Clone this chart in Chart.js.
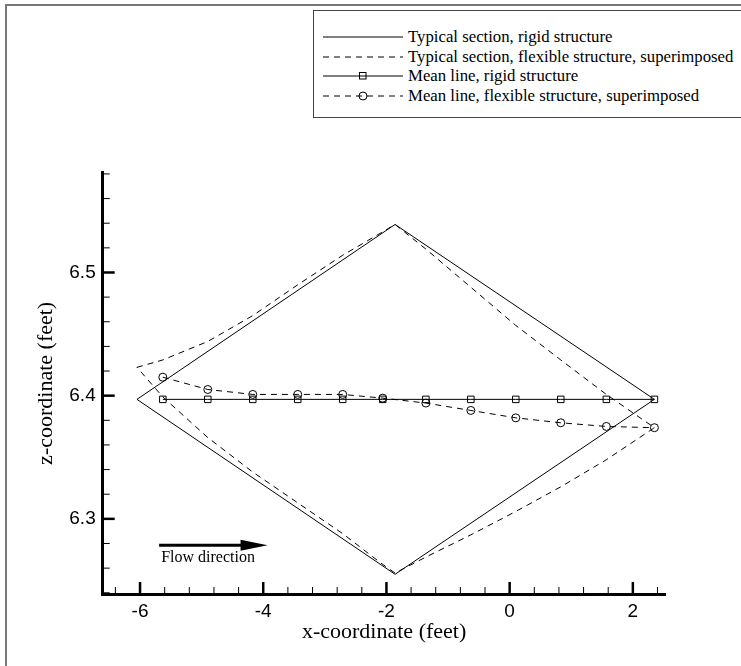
<!DOCTYPE html>
<html lang="en">
<head>
<meta charset="UTF-8">
<title>Typical section and mean line</title>
<script src="https://cdn.jsdelivr.net/npm/chart.js"></script>
<style>
    body { margin: 0; background: #fff; }
    #wrap { position: relative; width: 741px; height: 666px; overflow: hidden; }
    #frame { position: absolute; left: 5px; top: 4px; width: 760px; height: 700px; border-top: 2px solid #777; border-left: 2px solid #777; pointer-events: none; }
    #legend { position: absolute; left: 313px; top: 10px; width: 440px; height: 106px; border: 1px solid #444; background: #fff;
              font: 16.75px "Liberation Serif", "Times New Roman", serif; color: #000; }
    .row { position: absolute; left: 9px; height: 19px; display: flex; align-items: center; white-space: nowrap; }
    .row svg { width: 80px; height: 14px; margin-right: 5px; }
</style>
</head>
<body>
<div id="wrap">
    <canvas id="chart" width="741" height="666"></canvas>
    <div id="frame"></div>
    <div id="legend"></div>
</div>
<script>
// typical section, rigid structure: leading edge, crest, trailing edge, bottom, back to leading edge
const rigidX = [-6.05, -1.86, 2.35, -1.86, -6.05];
const rigidZ = [6.397, 6.539, 6.397, 6.255, 6.397];

// typical section, flexible structure (upper and lower surface at the same stations)
const flexX      = [-6.05, -5.63, -4.90, -4.17, -3.44, -2.71, -2.06, -1.86, -1.36, -0.63, 0.10, 0.83, 1.57, 2.35];
const flexUpperZ = [6.423, 6.429, 6.444, 6.465, 6.490, 6.514, 6.533, 6.539, 6.519, 6.488, 6.457, 6.429, 6.401, 6.374];
const flexLowerZ = [6.423, 6.399, 6.366, 6.338, 6.313, 6.288, 6.263, 6.256, 6.269, 6.287, 6.306, 6.326, 6.348, 6.374];

// mean line stations
const stationX   = [-5.63, -4.90, -4.17, -3.44, -2.71, -2.06, -1.36, -0.63, 0.10, 0.83, 1.57, 2.35];
const meanRigidZ = [6.397, 6.397, 6.397, 6.397, 6.397, 6.397, 6.397, 6.397, 6.397, 6.397, 6.397, 6.397];
const meanFlexZ  = [6.415, 6.405, 6.401, 6.401, 6.401, 6.398, 6.394, 6.388, 6.382, 6.378, 6.375, 6.374];

const seriesNames = [
    'Typical section, rigid structure',
    'Typical section, flexible structure, superimposed',
    'Mean line, rigid structure',
    'Mean line, flexible structure, superimposed'
];

const xMajor = [-6, -4, -2, 0, 2];
const yMajor = [6.3, 6.4, 6.5];
const xRange = [-6.606, 2.53];
const yRange = [6.239, 6.581];

// flow direction arrow (data units)
const flowFrom = [-5.69, 6.2786];
const flowTo = [-3.93, 6.2786];

const pts = (xs, zs) => xs.map((x, i) => ({ x: x, y: zs[i] }));
const flexOutline = pts(flexX, flexUpperZ).concat(pts(flexX, flexLowerZ).reverse());

const serif = '"Liberation Serif", "Times New Roman", serif';
const sans = '"Liberation Sans", Arial, sans-serif';

const inwardTicks = {
    id: 'inwardTicks',
    afterDraw(chart) {
        const { ctx, chartArea: a, scales: { x, y } } = chart;
        ctx.save();
        ctx.strokeStyle = '#000';
        const seg = (x1, y1, x2, y2, w) => {
            ctx.lineWidth = w;
            ctx.beginPath(); ctx.moveTo(x1, y1); ctx.lineTo(x2, y2); ctx.stroke();
        };
        for (let i = -17; i <= 6; i++) {
            const v = i * 0.4;
            if (v < xRange[0] || v > xRange[1]) continue;
            const px = x.getPixelForValue(v);
            const major = i % 5 === 0;
            seg(px, a.bottom, px, a.bottom - (major ? 12 : 7), major ? 2.5 : 1);
        }
        for (let i = 312; i <= 329; i++) {
            const v = i * 0.02;
            if (v < yRange[0] || v > yRange[1]) continue;
            const py = y.getPixelForValue(v);
            const major = i % 5 === 0;
            seg(a.left, py, a.left + (major ? 12 : 7), py, major ? 2.5 : 1);
        }
        // flow direction arrow
        const x0 = x.getPixelForValue(flowFrom[0]), x1 = x.getPixelForValue(flowTo[0]);
        const yy = y.getPixelForValue(flowFrom[1]);
        seg(x0, yy, x1 - 20, yy, 3);
        ctx.fillStyle = '#000';
        ctx.beginPath();
        ctx.moveTo(x1, yy); ctx.lineTo(x1 - 27, yy - 5.5); ctx.lineTo(x1 - 27, yy + 5.5);
        ctx.closePath(); ctx.fill();
        ctx.font = '16px ' + serif;
        ctx.textBaseline = 'middle';
        ctx.textAlign = 'left';
        ctx.fillText('Flow direction', x0 + 2, yy + 13);
        ctx.restore();
    }
};

const chart = new Chart(document.getElementById('chart'), {
    type: 'scatter',
    data: {
        datasets: [{
            label: seriesNames[0],
            data: pts(rigidX, rigidZ),
            showLine: true, borderColor: '#000', borderWidth: 1, pointRadius: 0
        }, {
            label: seriesNames[1],
            data: flexOutline,
            showLine: true, borderColor: '#000', borderWidth: 1, borderDash: [6, 5], pointRadius: 0
        }, {
            label: seriesNames[2],
            data: pts(stationX, meanRigidZ),
            showLine: true, borderColor: '#000', borderWidth: 1,
            pointStyle: 'rect', pointRadius: 4.6, pointBorderWidth: 1,
            pointBorderColor: '#000', pointBackgroundColor: 'rgba(0,0,0,0)'
        }, {
            label: seriesNames[3],
            data: pts(stationX, meanFlexZ),
            showLine: true, borderColor: '#000', borderWidth: 1, borderDash: [6, 5],
            pointStyle: 'circle', pointRadius: 4, pointBorderWidth: 1,
            pointBorderColor: '#000', pointBackgroundColor: 'rgba(0,0,0,0)'
        }]
    },
    options: {
        responsive: false,
        animation: false,
        layout: { padding: { top: 172.7, right: 75.5, left: 0, bottom: 0 } },
        plugins: { legend: { display: false }, tooltip: { enabled: false } },
        scales: {
            x: {
                type: 'linear', min: xRange[0], max: xRange[1],
                afterFit: s => { s.height = 72; },
                afterBuildTicks: s => { s.ticks = xMajor.map(v => ({ value: v })); },
                grid: { display: false, drawTicks: false },
                border: { display: true, color: '#000', width: 3 },
                ticks: { color: '#000', padding: 6, font: { family: sans, size: 19 } },
                title: { display: true, text: 'x-coordinate (feet)', color: '#000',
                         font: { family: serif, size: 22 }, padding: { top: 0, bottom: 21 } }
            },
            y: {
                type: 'linear', min: yRange[0], max: yRange[1],
                afterFit: s => { s.width = 102.7; },
                afterBuildTicks: s => { s.ticks = yMajor.map(v => ({ value: v })); },
                grid: { display: false, drawTicks: false },
                border: { display: true, color: '#000', width: 3 },
                ticks: { color: '#000', padding: 7, font: { family: sans, size: 19 },
                         callback: v => v.toFixed(1) },
                title: { display: true, text: 'z-coordinate (feet)', color: '#000',
                         font: { family: serif, size: 22 }, padding: { top: 33, bottom: 0 } }
            }
        }
    },
    plugins: [inwardTicks]
});

// legend box, samples drawn to match the dataset styles
const legend = document.getElementById('legend');
const rowCenters = [26, 45.5, 65, 84.5];
chart.data.datasets.forEach((ds, i) => {
    const row = document.createElement('div');
    row.className = 'row';
    row.style.top = (rowCenters[i] - 9.5) + 'px';
    const dash = ds.borderDash ? 'stroke-dasharray="6 5"' : '';
    let marker = '';
    if (ds.pointStyle === 'rect') marker = '<rect x="36.5" y="3.5" width="6.5" height="6.5" fill="none" stroke="#000"/>';
    if (ds.pointStyle === 'circle') marker = '<circle cx="40" cy="7" r="4" fill="none" stroke="#000"/>';
    row.innerHTML = '<svg viewBox="0 0 80 14"><line x1="0" y1="7" x2="80" y2="7" stroke="#000" stroke-width="1" ' + dash + '/>' +
        marker + '</svg><span>' + ds.label + '</span>';
    legend.appendChild(row);
});
</script>
</body>
</html>
